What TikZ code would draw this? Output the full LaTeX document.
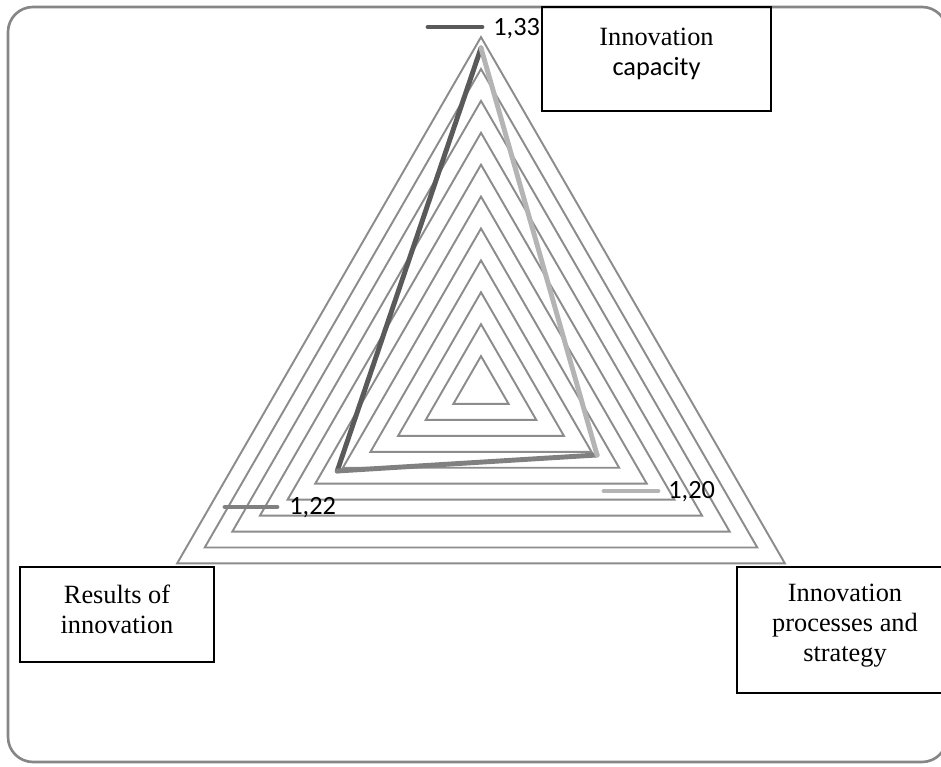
\documentclass[tikz,border=0pt]{standalone}
\usepackage{fontspec}
\setmainfont{Liberation Serif}
\newfontfamily\calibfont{Carlito}
\definecolor{ringgray}{HTML}{8C8C8C}
\definecolor{framegray}{HTML}{868686}
\definecolor{darkser}{HTML}{5A5A5A}
\definecolor{midser}{HTML}{808080}
\definecolor{lightser}{HTML}{B4B4B4}
\begin{document}
\begin{tikzpicture}[
					x=0.02cm, y=0.02cm,
					font=\fontsize{15}{17}\selectfont,
					ring/.style={draw=ringgray, line width=1.1pt},
					series/.style={line width=2.8pt, line cap=round, line join=round},
					labelbox/.style={draw=black, line width=1.5pt, align=center, inner sep=0pt},
					value/.style={font=\calibfont\fontsize{15}{17}\selectfont, anchor=west, inner sep=0pt}
				]
				\useasboundingbox (0,0) rectangle (941,767);
				\clip (0,0) rectangle (941,767);
				\draw[framegray, line width=1.5pt, rounded corners=0.5cm] (8,5) rectangle (947,760);
				% radar grid
				\begin{scope}[shift={(481,379)}]
					\foreach \k in {1,...,11}
						\draw[ring] (90:{\k*31.9}) -- (210:{\k*31.9}) -- (330:{\k*31.9}) -- cycle;
					\coordinate (capv) at (90:340);
					\coordinate (resv) at (210:166);
					\coordinate (procv) at (330:134);
				\end{scope}
				\draw[series, darkser] (capv) -- (resv);
				\draw[series, midser] (resv) -- (procv);
				\draw[series, lightser] (procv) -- (capv);
				% values
				\coordinate (m133a) at (428,740);
				\coordinate (m133b) at (482,740);
				\coordinate (m122a) at (225,260);
				\coordinate (m122b) at (277,260);
				\coordinate (m120a) at (604,276);
				\coordinate (m120b) at (658,276);
				\draw[series, darkser] (m133a) -- (m133b);
				\draw[series, midser] (m122a) -- (m122b);
				\draw[series, lightser] (m120a) -- (m120b);
				\node[value] (v133) at (493,738) {1,33};
				\node[value] (v122) at (289,259) {1,22};
				\node[value] (v120) at (668,275) {1,20};
				% axis labels
				\node[labelbox, minimum width=4.58cm, minimum height=2.08cm, text depth=0.28cm] (cap) at (656.5,708) {Innovation\\ {\calibfont capacity}};
				\node[labelbox, minimum width=3.88cm, minimum height=1.9cm, text depth=0.2cm] (res) at (117,152.5) {Results of\\ innovation};
				\node[labelbox, minimum width=4.32cm, minimum height=2.52cm, text depth=0.3cm] (proc) at (845,137) {Innovation\\ processes and\\ strategy};
			\end{tikzpicture}
\end{document}
